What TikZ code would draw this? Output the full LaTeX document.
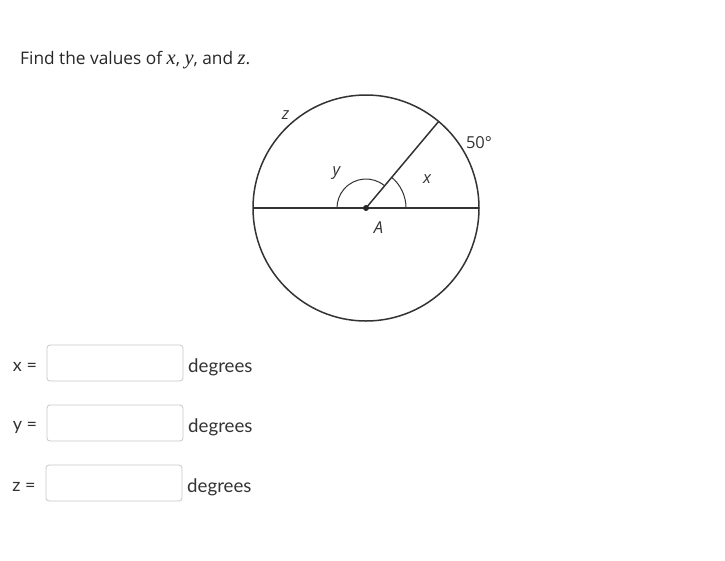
\documentclass[tikz,border=0pt]{standalone}
\usepackage{fontspec}
\usetikzlibrary{calc}
\setmainfont{Open Sans}
\newfontfamily\latofont{Lato}
\newfontfamily\timesfont{Liberation Serif}
\newfontfamily\labfont{Open Sans}
\newcommand\mvar[1]{{\fontsize{20.5}{17.3}\timesfont\itshape #1}}
\begin{document}
\begin{tikzpicture}[x=1pt,y=-1pt,
  geo/.style={draw=black!80,line width=1.5pt},
  thin arc/.style={draw=black!80,line width=1pt},
  lab/.style={font=\fontsize{16.5}{16.5}\labfont\itshape,text=black!80,inner sep=0pt},
  inbox/.style={draw=black!22,rounded corners=3pt,line width=0.8pt,minimum width=136pt,minimum height=36pt,inner sep=0pt},
  formlab/.style={font=\fontsize{18}{18}\latofont,text=black!80,inner sep=0pt},
  deg/.style={font=\fontsize{18.7}{18.7}\latofont,text=black!80,inner sep=0pt,anchor=west}]
\useasboundingbox (0,0) rectangle (725,560);
% title
\node[anchor=base west,inner sep=0pt,font=\fontsize{17.3}{17.3}\selectfont,text=black!85] (title) at (20,64)
  {Find the values of \mvar{x}, \mvar{y}, and \mvar{z}.};
% circle
\coordinate (A) at (366,208);
\coordinate (L) at (253,208);
\coordinate (R) at (479,208);
\coordinate (P) at ($(A)+(-50:113)$);
\node[geo,circle,minimum size=226pt,inner sep=0pt] (C) at (A) {};
\draw[geo] (L) -- (R);
\draw[geo] (A) -- (P);
\draw[thin arc] ($(A)+(40,0)$) arc[start angle=0,end angle=-50,radius=40];
\draw[thin arc] ($(A)+(-50:29)$) arc[start angle=-50,end angle=-180,radius=29];
\fill[black!85] (A) circle (3pt);
\node[lab] (lz) at (285.5,115) {z};
\node[lab,font=\fontsize{16.5}{16.5}\labfont] (l50) at (479,143) {50°};
\node[lab] (ly) at (336.5,173) {y};
\node[lab] (lx) at (427,179) {x};
\node[lab] (lA) at (378.5,228) {A};
% form
\node[formlab] (fx) at (25,367) {x =};
\node[formlab] (fy) at (25,427) {y =};
\node[formlab] (fz) at (24,487) {z =};
\node[inbox] (bx) at (115,363) {};
\node[inbox] (by) at (115,423) {};
\node[inbox] (bz) at (114,483) {};
\node[deg] (dx) at (188,367) {degrees};
\node[deg] (dy) at (188,427) {degrees};
\node[deg] (dz) at (187,487) {degrees};
\end{tikzpicture}
\end{document}
